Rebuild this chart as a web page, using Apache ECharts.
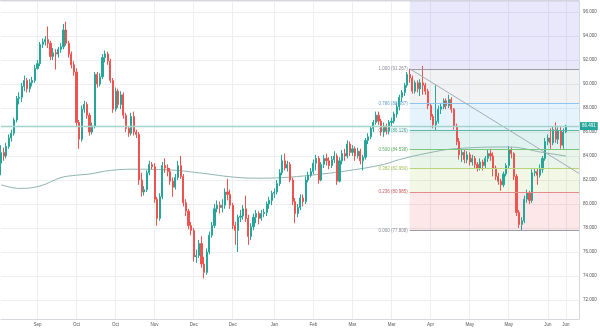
<!DOCTYPE html>
<html>
<head>
<meta charset="utf-8">
<script src="https://cdn.jsdelivr.net/npm/echarts/dist/echarts.min.js"></script>
<style>
  html, body { margin: 0; padding: 0; background: #ffffff; }
  #chart { width: 600px; height: 329px; }
</style>
</head>
<body>
<div id="chart"></div>
<script>
// Daily candles: [open, close, low, high]
const ohlc = [
  [83.4,84.3,82.4,84.9],[84.3,84.0,83.6,84.7],[84.0,84.8,83.8,85.1],[84.8,85.5,84.6,85.8],[85.5,85.9,85.2,86.2],
  [85.9,87.0,85.7,87.2],[87.0,88.8,86.8,89.0],[88.8,88.9,88.3,89.3],[88.9,89.8,88.5,90.1],[89.8,90.3,89.4,90.7],
  [90.3,89.6,89.3,90.5],[89.6,90.1,89.3,90.4],[90.1,90.3,89.8,90.6],[90.3,91.3,90.1,91.6],[91.3,91.7,91.2,92.0],
  [91.7,93.3,91.5,93.5],[93.3,93.5,93.0,93.8],[93.5,93.7,93.2,94.0],[93.7,93.4,93.0,94.8],[93.4,92.3,92.0,93.6],
  [92.3,92.6,92.0,93.0],[92.6,92.5,91.2,92.9],[92.5,92.9,92.2,93.1],[92.9,93.1,92.6,93.4],[93.1,94.5,92.9,95.0],
  [94.5,93.4,93.2,95.2],[93.4,92.5,92.2,93.6],[92.5,91.6,91.3,92.7],[91.6,91.0,90.7,91.9],[91.0,86.8,86.5,91.3],
  [86.8,85.4,84.6,87.0],[85.4,87.9,85.2,88.2],[87.9,88.3,87.6,88.6],[88.3,87.4,87.1,88.5],[87.4,86.0,85.7,87.6],
  [86.0,86.5,85.8,86.8],[86.5,90.8,86.3,91.0],[90.8,90.0,89.7,91.0],[90.0,90.6,89.8,90.9],[90.6,92.2,90.4,92.5],
  [92.2,92.5,91.8,92.8],[92.5,91.9,91.6,92.7],[91.9,90.3,90.1,92.1],[90.3,87.9,87.6,90.5],[87.9,89.4,87.7,89.7],
  [89.4,88.3,88.0,89.6],[88.3,89.1,87.9,89.4],[89.1,87.4,87.1,89.3],[87.4,86.3,86.0,87.6],[86.3,85.9,85.6,86.5],
  [85.9,87.3,85.7,87.6],[87.3,86.0,85.7,87.7],[86.0,85.8,85.5,86.2],[85.8,82.0,81.6,86.0],[82.0,81.0,80.6,82.6],
  [81.0,81.2,80.7,81.5],[81.2,82.6,81.0,82.8],[82.6,83.3,82.4,83.6],[83.3,83.1,82.9,83.5],[83.1,80.4,80.1,83.4],
  [80.4,78.8,78.2,80.6],[78.8,80.6,78.6,80.9],[80.6,83.2,80.4,83.5],[83.2,83.0,82.6,83.8],[83.0,82.7,82.3,83.3],
  [82.7,81.9,81.6,83.0],[81.9,81.4,80.6,82.2],[81.4,82.2,81.2,82.5],[82.2,83.2,82.0,83.6],[83.2,82.3,82.1,84.0],
  [82.3,80.1,79.8,82.5],[80.1,79.4,79.0,80.4],[79.4,78.2,77.9,79.6],[78.2,77.8,77.4,78.5],[77.8,75.6,75.2,78.0],
  [75.6,75.7,75.1,76.2],[75.7,76.7,75.5,77.0],[76.7,75.0,74.7,77.3],[75.0,74.3,73.8,75.6],[74.3,76.0,74.1,76.3],
  [76.0,77.4,75.8,77.7],[77.4,78.2,77.2,78.5],[78.2,79.6,78.0,80.0],[79.6,79.9,79.3,80.3],[79.9,79.7,79.2,80.2],
  [79.7,79.9,79.3,80.4],[79.9,81.0,79.6,81.3],[81.0,80.8,80.3,82.1],[80.8,79.9,79.6,81.2],[79.9,78.2,77.9,80.1],
  [78.2,77.8,76.6,78.5],[77.8,78.9,76.0,79.1],[78.9,79.0,78.5,79.5],[79.0,79.6,78.7,79.9],[79.6,78.8,78.5,80.7],
  [78.8,77.3,76.6,79.1],[77.3,78.1,77.0,78.4],[78.1,78.9,77.8,79.2],[78.9,79.2,78.4,79.5],[79.2,78.8,78.3,79.4],
  [78.8,79.2,78.6,79.5],[79.2,79.3,78.9,79.6],[79.3,80.0,79.0,80.2],[80.0,80.3,79.6,80.6],[80.3,80.9,79.9,81.1],
  [80.9,81.0,80.5,81.3],[81.0,81.7,80.8,82.0],[81.7,82.6,81.5,82.9],[82.6,83.6,82.4,84.1],[83.6,83.0,82.8,84.2],
  [83.0,83.3,82.7,83.6],[83.3,82.0,81.8,83.5],[82.0,80.2,79.9,82.2],[80.2,79.2,78.4,80.5],[79.2,79.7,78.9,80.0],
  [79.7,80.5,79.5,80.8],[80.5,80.2,79.8,80.8],[80.2,82.0,80.0,82.3],[82.0,82.4,81.8,82.7],[82.4,82.7,82.2,83.0],
  [82.7,83.4,82.5,83.7],[83.4,83.8,82.8,84.1],[83.8,82.0,81.7,84.0],[82.0,83.3,81.9,83.5],[83.3,83.8,83.0,84.1],
  [83.8,83.6,83.2,84.2],[83.6,83.2,82.9,83.9],[83.2,83.7,83.0,84.0],[83.7,84.0,83.4,84.4],[84.0,81.9,81.6,84.2],
  [81.9,83.6,81.8,83.9],[83.6,84.2,83.3,84.5],[84.2,84.0,83.6,84.6],[84.0,85.0,83.8,85.3],[85.0,84.3,84.0,85.2],
  [84.3,84.6,84.0,84.9],[84.6,84.0,83.6,84.8],[84.0,84.4,83.8,84.7],[84.4,83.6,83.3,84.6],[83.6,83.9,82.8,84.1],
  [83.9,85.3,83.7,85.5],[85.3,85.6,85.0,85.9],[85.6,86.3,85.4,86.5],[86.3,86.8,86.0,87.0],[86.8,87.4,86.6,87.7],
  [87.4,86.9,86.6,87.7],[86.9,86.0,85.7,87.1],[86.0,86.5,85.6,86.8],[86.5,86.1,85.8,86.7],[86.1,86.8,85.8,87.0],
  [86.8,86.9,86.5,87.2],[86.9,87.5,86.7,87.7],[87.5,88.1,87.2,88.4],[88.1,88.9,87.8,89.1],[88.9,89.3,88.5,89.5],
  [89.3,89.9,89.0,90.1],[89.9,90.8,89.7,91.0],[90.8,90.5,90.1,91.267],[90.5,89.4,89.2,90.7],[89.4,90.1,89.2,90.3],
  [90.1,89.6,89.3,90.3],[89.6,90.1,89.0,90.4],[90.1,89.9,89.1,91.5],[89.9,89.4,89.1,90.1],[89.4,88.2,87.9,89.6],
  [88.2,87.3,87.0,88.4],[87.3,86.6,86.3,87.5],[86.6,86.9,86.1,89.9],[86.9,87.9,86.7,88.2],[87.9,88.1,87.5,88.4],
  [88.1,88.6,87.9,88.8],[88.6,88.2,87.9,88.8],[88.2,88.7,88.0,89.1],[88.7,87.9,87.6,88.9],[87.9,86.5,86.2,88.0],
  [86.5,85.2,84.9,86.7],[85.2,84.1,83.7,85.5],[84.1,84.3,83.5,84.6],[84.3,83.7,83.4,84.5],[83.7,84.1,83.4,84.4],
  [84.1,83.5,83.2,84.3],[83.5,83.8,83.2,84.1],[83.8,83.3,83.0,84.0],[83.3,83.0,82.7,83.5],[83.0,83.5,82.8,83.8],
  [83.5,83.2,82.8,83.7],[83.2,83.8,83.0,84.0],[83.8,84.2,83.5,84.5],[84.2,84.0,83.6,84.6],[84.0,83.0,82.3,84.3],
  [83.0,82.3,82.0,83.2],[82.3,81.9,81.6,82.6],[81.9,81.6,81.1,82.1],[81.6,82.5,81.4,82.7],[82.5,83.2,82.3,83.4],
  [83.2,84.5,83.0,84.8],[84.5,84.2,83.8,84.7],[84.2,82.3,82.0,84.3],[82.3,79.3,79.0,82.5],[79.3,78.3,78.0,79.5],
  [78.3,78.6,77.808,78.9],[78.6,80.4,78.4,80.7],[80.4,80.9,80.1,81.2],[80.9,80.3,80.0,81.1],[80.3,82.6,80.1,82.9],
  [82.6,82.7,82.3,83.0],[82.7,82.4,81.6,83.0],[82.4,82.9,82.2,83.3],[82.9,83.8,82.6,84.0],[83.8,85.2,83.6,85.5],
  [85.2,85.5,84.9,85.8],[85.5,85.1,84.6,86.3],[85.1,86.2,84.9,86.5],[86.2,85.4,85.1,86.8],[85.4,86.1,85.0,86.4],
  [86.1,84.9,84.6,86.5],[84.9,86.0,84.6,86.3],[86.0,86.491,85.9,86.6]
];

// Long moving average, sampled: [candle index, value]
const maPoints = [
  [0,81.6],[7,81.3],[15,81.5],[23,82.2],[29,82.4],[34,82.5],[42,82.8],[51,82.9],
  [64,82.85],[76,82.6],[89,82.25],[98,82.15],[108,82.2],[119,82.4],[134,82.8],
  [147,83.3],[153,83.7],[164,84.25],[174,84.6],[195,84.75],[208,84.3],[217,84.0]
];

// Time-scale labels and the slots they sit on
const tickIndex  = [14, 29, 44, 59, 74, 89, 105, 120, 135, 150, 165, 180, 195, 210, 217];
const tickLabels = ['Sep','Oct','Oct','Nov','Dec','Dec','Jan','Feb','Mar','Mar','Apr','May','May','Jun','Jun'];
const slotCount = 223;   // candles plus empty space on the right

// Fibonacci retracement drawn from the swing high to the swing low
const fibRatios = ['1.000','0.786','0.618','0.500','0.382','0.236','0.000'];
const fibPrices = [91.267, 88.387, 86.126, 84.538, 82.950, 80.985, 77.808];
const fibStartIdx = 157;
const fibEndIdx = 222;

// Down-sloping trend line from the swing high: [slot, price]
const trendStart = [157, 91.267];
const trendEnd = [222, 82.55];

const lastPrice = 86.491;
const yMin = 70.417, yMax = 96.917;

const fibLineColors  = ['#9a9ca5','#90c4ec','#5bb5a2','#7cc47f','#b8d47c','#e38a8a','#9a9ca5'];
const fibLabelColors = ['#8a8c94','#5d9fd3','#3f9e8c','#5daf61','#a3c05b','#c8585c','#8a8c94'];
const zoneColors = [
  'rgba(98,92,220,0.14)',
  'rgba(120,123,134,0.10)',
  'rgba(100,181,246,0.17)',
  'rgba(8,153,129,0.12)',
  'rgba(76,175,80,0.13)',
  'rgba(170,200,80,0.14)',
  'rgba(242,54,69,0.12)'
];

const FONT = 'Liberation Sans, Arial, sans-serif';
const categories = Array.from({ length: slotCount }, (_, i) => String(i));
const isTick = (idx) => tickIndex.indexOf(idx) !== -1;

const zoneEdges = [yMax].concat(fibPrices);
const zoneData = zoneColors.map((c, k) => [
  { xAxis: fibStartIdx, yAxis: zoneEdges[k], itemStyle: { color: c } },
  { xAxis: fibEndIdx, yAxis: zoneEdges[k + 1] }
]);

const fibLineData = fibPrices.map((p, k) => [
  {
    coord: [fibStartIdx, p],
    lineStyle: { color: fibLineColors[k], width: 1, type: 'solid' },
    label: {
      show: true, position: 'start', distance: 2,
      formatter: fibRatios[k] + ' (' + p.toFixed(3) + ')',
      color: fibLabelColors[k], fontSize: 4.5, fontFamily: FONT
    }
  },
  { coord: [fibEndIdx, p] }
]);

const trendData = [[
  { coord: trendStart, lineStyle: { color: '#a3acb9', width: 1, type: 'solid' }, label: { show: false } },
  { coord: trendEnd }
]];

const priceLine = {
  yAxis: lastPrice,
  lineStyle: { color: '#a3d3cb', width: 1.3, type: 'solid' },
  label: {
    show: true, position: 'end', distance: 1,
    formatter: lastPrice.toFixed(3),
    backgroundColor: '#26a69a', color: '#ffffff',
    padding: [2, 2, 1, 2], fontSize: 4.5, fontFamily: FONT
  }
};

const chart = echarts.init(document.getElementById('chart'), null, { renderer: 'canvas' });
chart.setOption({
  animation: false,
  backgroundColor: '#ffffff',
  grid: { left: 1, right: 21, top: 1, bottom: 10, containLabel: false },
  xAxis: {
    type: 'category',
    data: categories,
    boundaryGap: false,
    axisLine: { show: true, lineStyle: { color: '#d6d8dd', width: 1 } },
    axisTick: { show: false, interval: (idx) => isTick(idx) },
    axisLabel: {
      interval: (idx) => isTick(idx),
      formatter: (val) => tickLabels[tickIndex.indexOf(Number(val))] || '',
      fontSize: 4.5, color: '#555555', fontFamily: FONT, margin: 3,
      hideOverlap: false
    },
    splitLine: { show: true, interval: (idx) => isTick(idx), lineStyle: { color: '#eceef2', width: 1 } }
  },
  yAxis: {
    type: 'value',
    position: 'right',
    min: yMin, max: yMax,
    minInterval: 2, maxInterval: 2,
    scale: true,
    axisLine: { show: true, lineStyle: { color: '#d6d8dd', width: 1 } },
    axisTick: { show: false },
    axisLabel: {
      fontSize: 4.5, color: '#555555', fontFamily: FONT, margin: 4,
      formatter: (v) => (Math.abs(v / 2 - Math.round(v / 2)) < 1e-6 ? v.toFixed(3) : '')
    },
    splitLine: { show: true, lineStyle: { color: '#eceef2', width: 1 } }
  },
  graphic: [{
    type: 'line', silent: true,
    shape: { x1: 0, y1: 0.5, x2: 579, y2: 0.5 },
    style: { stroke: '#d4d6da', lineWidth: 1 }
  }],
  series: [
    {
      name: 'MA',
      type: 'line',
      data: maPoints,
      smooth: 0.4,
      showSymbol: false,
      silent: true,
      lineStyle: { color: '#8fb6b0', width: 1 },
      z: 2
    },
    {
      name: 'Price',
      type: 'candlestick',
      data: ohlc,
      barWidth: 1.6,
      clip: false,
      silent: true,
      z: 3,
      itemStyle: {
        color: '#26a69a', color0: '#ef5350',
        borderColor: '#26a69a', borderColor0: '#ef5350',
        borderWidth: 1
      },
      markArea: {
        silent: true,
        data: zoneData
      },
      markLine: {
        silent: true,
        symbol: ['none', 'none'],
        animation: false,
        data: fibLineData.concat(trendData).concat([priceLine])
      }
    }
  ]
});
</script>
</body>
</html>
